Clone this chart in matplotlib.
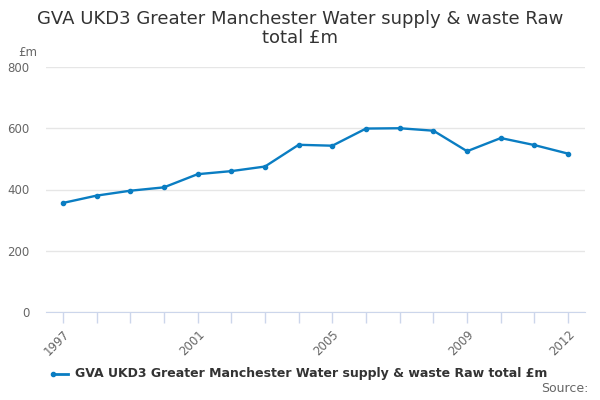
import matplotlib.pyplot as plt

years = [1997, 1998, 1999, 2000, 2001, 2002, 2003, 2004,
         2005, 2006, 2007, 2008, 2009, 2010, 2011, 2012]
values = [356, 380, 396, 407, 450, 460, 475, 546,
          543, 599, 600, 592, 525, 568, 545, 517]
shown_ticks = [1997, 2001, 2005, 2009, 2012]
series_name = 'GVA UKD3 Greater Manchester Water supply & waste Raw total £m'

line_col = '#0a7dc2'
plt.rcParams['font.family'] = ['DejaVu Sans']

fig = plt.figure(figsize=(6, 4), dpi=100)
ax = fig.add_axes([46 / 600, 1 - 312 / 400, 539 / 600, 245 / 400])

ax.plot(years, values, color=line_col, lw=1.7, marker='o', ms=3, zorder=3)

ax.set_xlim(1996.5, 2012.5)
ax.set_ylim(0, 800)
ax.set_yticks([0, 200, 400, 600, 800])
ax.grid(axis='y', color='#e6e6e6', lw=1)
ax.set_axisbelow(True)

ax.set_xticks(years, minor=True)
ax.set_xticks(shown_ticks)
ax.set_xticklabels([str(y) for y in shown_ticks], rotation=45, ha='right',
                   rotation_mode='anchor', fontsize=8.5, color='#666666')
ax.tick_params(axis='x', which='both', length=8, color='#ccd6eb', width=1)
ax.tick_params(axis='y', length=0, labelsize=8.5, labelcolor='#666666', pad=12)

for s in ['top', 'right', 'left']:
    ax.spines[s].set_visible(False)
ax.spines['bottom'].set_color('#ccd6eb')

fig.text(0.5, 0.975, 'GVA UKD3 Greater Manchester Water supply & waste Raw\ntotal £m',
         ha='center', va='top', fontsize=13, color='#333333', linespacing=1.1)
fig.text(18 / 600, 1 - 52 / 400, '£m', ha='left', va='center', fontsize=8.5, color='#666666')

# legend
fig.lines.append(plt.Line2D([53 / 600, 68 / 600], [1 - 374 / 400] * 2, color=line_col,
                            lw=2, marker='o', ms=3, markevery=[0], transform=fig.transFigure))
fig.text(75 / 600, 1 - 374 / 400, series_name, ha='left', va='center',
         fontsize=9, fontweight='semibold', color='#333333')
fig.text(589 / 600, 1 - 389 / 400, 'Source:', ha='right', va='center',
         fontsize=9, color='#666666')

fig.savefig('out.png', dpi=100)
